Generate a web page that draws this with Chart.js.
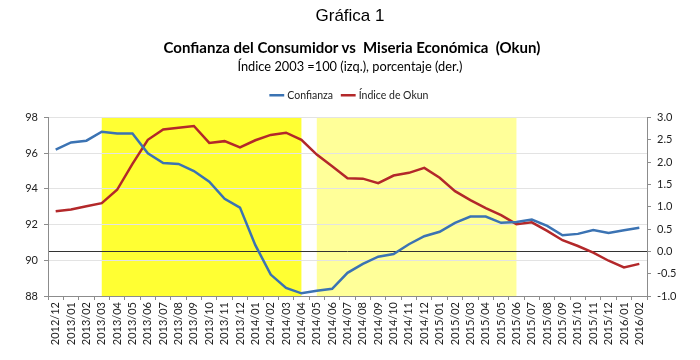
<!DOCTYPE html>
<html>
<head>
<meta charset="utf-8">
<script src="https://cdn.jsdelivr.net/npm/chart.js@4.4.0/dist/chart.umd.min.js"></script>
<style>
  body { margin: 0; background: #fff; }
  #wrap { position: relative; width: 700px; height: 360px; }
  .t { position: absolute; left: 0; width: 700px; text-align: center; color: #000; }
  #t1 { top: 6px; font: 17px "Liberation Sans", Arial, sans-serif; }
  #t2 { top: 38px; left: 2px; font: bold 15px Lato, sans-serif; }
  #t3 { top: 58px; font: 12.8px Lato, sans-serif; }
  canvas { position: absolute; left: 0; top: 0; }
</style>
</head>
<body>
<div id="wrap">
  <canvas id="chart" width="700" height="360"></canvas>
  <div class="t" id="t1">Gráfica 1</div>
  <div class="t" id="t2">Confianza del Consumidor vs&nbsp; Miseria Económica&nbsp; (Okun)</div>
  <div class="t" id="t3">Índice 2003 =100 (izq.), porcentaje (der.)</div>
</div>
<script>
const months = [
  '2012/12',
  '2013/01','2013/02','2013/03','2013/04','2013/05','2013/06','2013/07','2013/08','2013/09','2013/10','2013/11','2013/12',
  '2014/01','2014/02','2014/03','2014/04','2014/05','2014/06','2014/07','2014/08','2014/09','2014/10','2014/11','2014/12',
  '2015/01','2015/02','2015/03','2015/04','2015/05','2015/06','2015/07','2015/08','2015/09','2015/10','2015/11','2015/12',
  '2016/01','2016/02'
];
const confianza = [96.2,96.6,96.7,97.2,97.1,97.1,96.0,95.45,95.4,95.0,94.4,93.45,92.95,90.85,89.2,88.45,88.15,88.3,88.4,89.3,89.8,90.2,90.35,90.9,91.35,91.6,92.1,92.45,92.45,92.1,92.15,92.28,91.93,91.4,91.48,91.7,91.53,91.68,91.82];
const okun = [0.9,0.94,1.01,1.08,1.38,1.96,2.5,2.73,2.77,2.81,2.43,2.47,2.33,2.49,2.61,2.66,2.5,2.17,1.91,1.64,1.63,1.53,1.70,1.76,1.87,1.65,1.35,1.15,0.97,0.81,0.61,0.65,0.46,0.25,0.12,-0.03,-0.21,-0.36,-0.28];
// shaded periods: [from month, to month, colour]
const bands = [
  ['2013/03', '2014/04', '#ffff33'],
  ['2014/05', '2015/06', '#ffff99']
];

const bandPlugin = {
  id: 'bands',
  beforeDraw(chart) {
    const { ctx, chartArea, scales: { x } } = chart;
    ctx.save();
    bands.forEach(([a, b, c]) => {
      const x0 = x.getPixelForValue(months.indexOf(a));
      const x1 = x.getPixelForValue(months.indexOf(b));
      ctx.fillStyle = c;
      ctx.fillRect(x0, chartArea.top, x1 - x0, chartArea.bottom - chartArea.top);
    });
    ctx.restore();
  }
};

const legendGap = {
  id: 'legendGap',
  beforeInit(chart) {
    const fit = chart.legend.fit;
    chart.legend.fit = function () {
      fit.bind(chart.legend)();
      this.height += 7;
    };
  }
};

const tickFont = { family: 'Lato', size: 11 };

new Chart('chart', {
  type: 'line',
  data: {
    labels: months,
    datasets: [
      {
        label: 'Confianza',
        data: confianza,
        yAxisID: 'y',
        borderColor: '#3b73b3',
        backgroundColor: '#3b73b3',
        borderWidth: 2.5,
        pointRadius: 0,
        tension: 0
      },
      {
        label: 'Índice de Okun',
        data: okun,
        yAxisID: 'y2',
        borderColor: '#b3282a',
        backgroundColor: '#b3282a',
        borderWidth: 2.5,
        pointRadius: 0,
        tension: 0
      }
    ]
  },
  options: {
    responsive: false,
    animation: false,
    layout: { padding: { top: 80, left: 0, right: 0, bottom: 0 } },
    plugins: {
      legend: {
        position: 'top',
        labels: {
          usePointStyle: true,
          pointStyle: 'line',
          boxWidth: 26,
          color: '#222',
          font: { family: 'Lato', size: 10.5 },
          padding: 10
        }
      },
      tooltip: { enabled: false }
    },
    scales: {
      x: {
        offset: true,
        grid: { offset: true, drawOnChartArea: false, tickLength: 4, color: '#8c8c8c' },
        border: { color: '#8c8c8c' },
        ticks: { minRotation: 90, maxRotation: 90, autoSkip: false, color: '#222', font: tickFont, padding: 2 },
        afterFit(s) { s.height = 64; }
      },
      y: {
        position: 'left',
        min: 88, max: 98,
        ticks: { stepSize: 2, color: '#222', font: tickFont, padding: 6 },
        grid: { color: '#e3e3e3', tickLength: 4, tickColor: '#8c8c8c' },
        border: { color: '#8c8c8c' },
        afterFit(s) { s.width = 48; }
      },
      y2: {
        position: 'right',
        min: -1, max: 3,
        ticks: { stepSize: 0.5, color: '#222', font: tickFont, padding: 6, callback: v => v.toFixed(1) },
        grid: {
          color: c => (c.tick && c.tick.value === 0 ? '#333' : 'rgba(0,0,0,0)'),
          lineWidth: 1,
          tickLength: 4,
          tickColor: '#8c8c8c'
        },
        border: { color: '#8c8c8c' },
        afterFit(s) { s.width = 53; }
      }
    }
  },
  plugins: [bandPlugin, legendGap]
});
</script>
</body>
</html>
